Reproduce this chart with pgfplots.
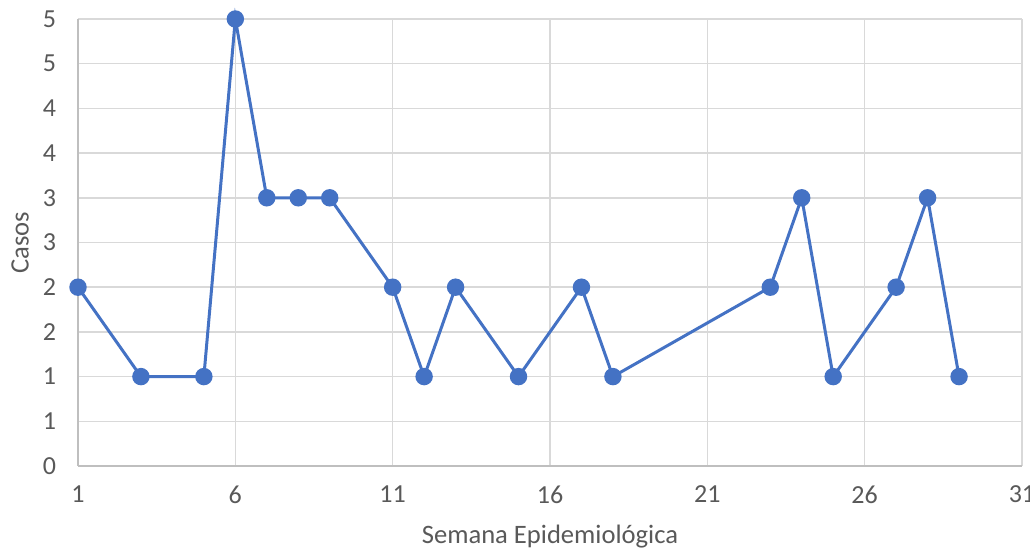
\documentclass[border=0pt]{standalone}
\usepackage{fontspec}
\setmainfont{Carlito}
\usepackage{pgfplots}
\pgfplotsset{compat=1.18}
\definecolor{lineblue}{HTML}{4472C4}
\definecolor{gridgray}{HTML}{D9D9D9}
\definecolor{axisgray}{HTML}{BFBFBF}
\definecolor{textgray}{HTML}{595959}
\begin{document}
\begin{tikzpicture}
\begin{axis}[
  at={(39pt,45pt)}, anchor=south west,
  scale only axis, width=472pt, height=223.5pt,
  xmin=1, xmax=31, ymin=0, ymax=5,
  xtick={1,6,11,16,21,26,31},
  ytick={0,0.5,1,1.5,2,2.5,3,3.5,4,4.5,5},
  yticklabels={0,1,1,2,2,3,3,4,4,5,5},
  axis lines*=left,
  axis line style={axisgray, line width=1pt},
  grid=major,
  major grid style={gridgray, line width=0.75pt},
  major tick length=0pt,
  tick label style={font=\fontsize{13}{15}\selectfont, text=textgray},
  /pgf/number format/assume math mode=true,
  xticklabel style={yshift=-6.5pt},
  yticklabel style={xshift=-7.5pt},
  xlabel={Semana Epidemiológica},
  ylabel={Casos},
  label style={font=\fontsize{13.3}{15}\selectfont, text=textgray},
  xlabel style={at={(axis description cs:0.5,0)}, anchor=center, yshift=-35.5pt},
  ylabel style={at={(axis description cs:0,0.5)}, anchor=center, yshift=29pt},
  clip=false,
]
\addplot[color=lineblue, line width=1.5pt, mark=*, mark size=3.6pt, mark options={fill=lineblue, draw=lineblue}] coordinates {
(1,2) (3,1) (5,1) (6,5) (7,3) (8,3) (9,3) (11,2) (12,1) (13,2) (15,1) (17,2) (18,1) (23,2) (24,3) (25,1) (27,2) (28,3) (29,1)
};
\end{axis}
\pgfresetboundingbox
\path (0,0) rectangle (515pt,278pt);
\end{tikzpicture}
\end{document}
